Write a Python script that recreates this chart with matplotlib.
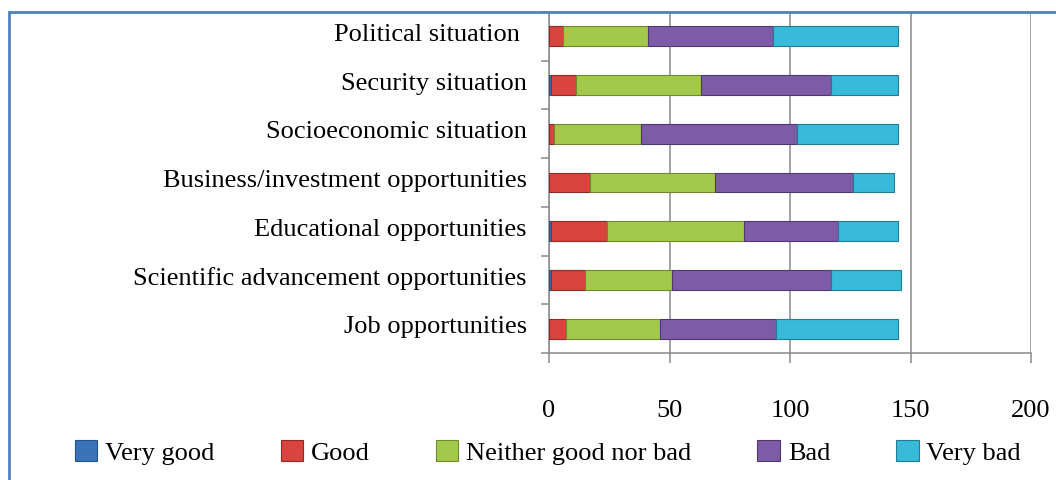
#!/usr/bin/env python3
# -*- coding: utf-8 -*-
"""
Stacked horizontal bar chart of opinions on conditions (Excel-style look).
"""

import matplotlib
matplotlib.use("Agg")
import matplotlib.pyplot as plt
from matplotlib.patches import Rectangle
from matplotlib.ticker import FixedLocator


# Categories, bottom to top as drawn
CATEGORIES = [
    "Job opportunities",
    "Scientific advancement opportunities",
    "Educational opportunities",
    "Business/investment opportunities",
    "Socioeconomic situation",
    "Security situation",
    "Political situation ",
]

SERIES = ["Very good", "Good", "Neither good nor bad", "Bad", "Very bad"]

VERY_GOOD = [0, 1, 1, 0, 0, 1, 0]
GOOD = [7, 14, 23, 17, 2, 10, 6]
NEITHER = [39, 36, 57, 52, 36, 52, 35]
BAD = [48, 66, 39, 57, 65, 54, 52]
VERY_BAD = [51, 29, 25, 17, 42, 28, 52]

X_TICKS = [0, 50, 100, 150, 200]

COLORS = ["#3B73B9", "#D9443F", "#A3C94A", "#7E5BA6", "#38BAD9"]
EDGES = ["#24528A", "#8E2A27", "#6E8A2C", "#4F3870", "#237C92"]

GRID = "#8A8A8A"
FRAME = "#4F81BD"
FONT = "Liberation Serif"
FS = 19
LABEL_LIFT = 0.1  # category labels sit a bit above bar centres


def main() -> None:
    plt.rcParams["font.family"] = [FONT, "DejaVu Serif"]

    fig = plt.figure(figsize=(10.56, 4.81), dpi=100)
    ax = fig.add_axes([549 / 1056, 1 - 354 / 481, (1031 - 549) / 1056, (354 - 13) / 481])

    values = [VERY_GOOD, GOOD, NEITHER, BAD, VERY_BAD]
    ypos = list(range(len(CATEGORIES)))
    left = [0.0] * len(CATEGORIES)
    for name, vals, col, edge in zip(SERIES, values, COLORS, EDGES):
        ax.barh(ypos, vals, left=left, height=0.41, color=col,
                edgecolor=edge, linewidth=0.8, label=name, zorder=3)
        left = [a + b for a, b in zip(left, vals)]

    ax.set_xlim(0, 200)
    ax.set_ylim(-0.5, len(CATEGORIES) - 0.5)
    ax.set_xticks(X_TICKS)
    ax.set_xticklabels([str(t) for t in X_TICKS], fontsize=FS)
    ax.set_yticks([y + LABEL_LIFT for y in ypos])
    ax.set_yticklabels(CATEGORIES, fontsize=FS)
    ax.yaxis.set_minor_locator(FixedLocator([i + 0.5 for i in range(-1, len(CATEGORIES))]))

    ax.tick_params(axis="x", which="major", length=7, width=1.1, color=GRID, pad=26)
    ax.tick_params(axis="y", which="major", length=0, pad=16)
    ax.tick_params(axis="y", which="minor", length=6, width=1.1, color=GRID)

    ax.grid(axis="x", color=GRID, linewidth=1.1, zorder=0)
    ax.set_axisbelow(True)
    for side in ("left", "bottom"):
        ax.spines[side].set_color(GRID)
        ax.spines[side].set_linewidth(1.1)
    ax.spines["top"].set_visible(False)
    ax.spines["right"].set_visible(False)

    handles, labels = ax.get_legend_handles_labels()
    fig.legend(handles, labels, loc="center", ncol=5,
               bbox_to_anchor=(548 / 1056, 1 - 453 / 481),
               frameon=False, fontsize=FS, handlelength=0.85, handleheight=0.85,
               handletextpad=0.3, columnspacing=2.5)

    # outer chart frame (only left and top edges are visible in the crop)
    fig.patches.append(Rectangle((9 / 1056, -0.2), 1.2, 1.2 - 13 / 481,
                                 transform=fig.transFigure, fill=False,
                                 edgecolor=FRAME, linewidth=2.0))

    fig.savefig("out.png", dpi=100)
    plt.close(fig)


if __name__ == "__main__":
    main()
